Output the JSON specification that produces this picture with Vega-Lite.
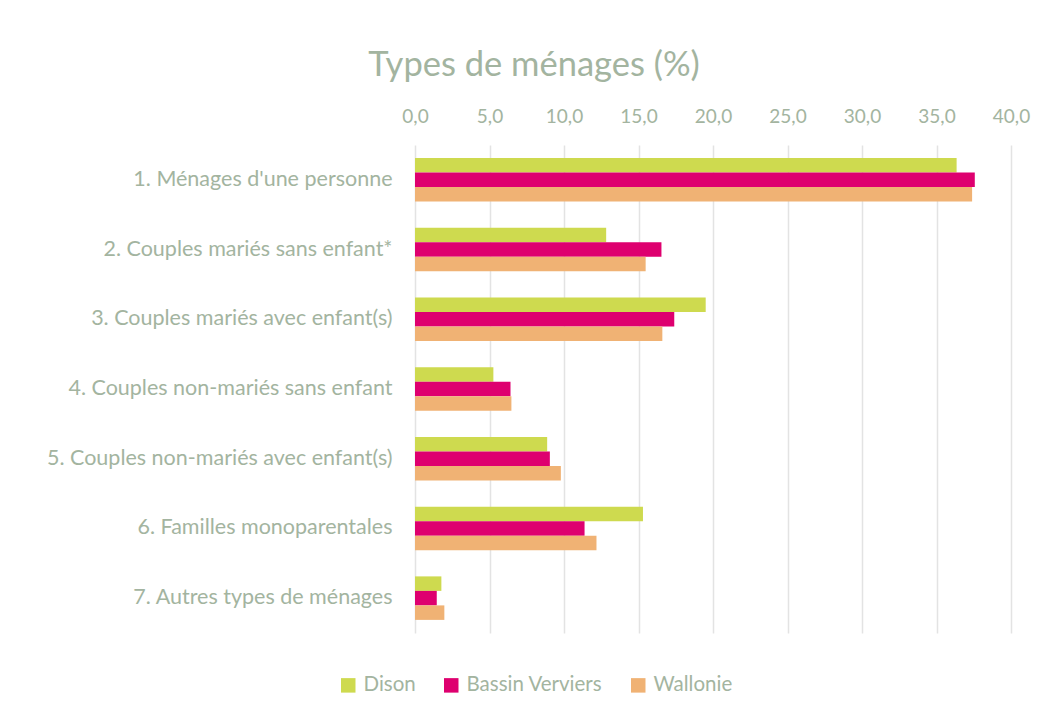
{
  "$schema": "https://vega.github.io/schema/vega-lite/v6.json",
  "width": 596,
  "height": 488,
  "autosize": {"type": "none"},
  "padding": {"left": 415, "top": 145, "right": 36, "bottom": 82},
  "background": "white",
  "title": {
    "text": "Types de ménages (%)",
    "font": "Lato",
    "fontSize": 34.5,
    "fontWeight": "normal",
    "color": "#A3B4A0",
    "anchor": "middle",
    "frame": "group",
    "dx": -179,
    "offset": 24
  },
  "data": {
    "values": [
      {"cat": "1. Ménages d'une personne", "serie": "Dison", "val": 36.35},
      {"cat": "1. Ménages d'une personne", "serie": "Bassin Verviers", "val": 37.57},
      {"cat": "1. Ménages d'une personne", "serie": "Wallonie", "val": 37.39},
      {"cat": "2. Couples mariés sans enfant*", "serie": "Dison", "val": 12.83},
      {"cat": "2. Couples mariés sans enfant*", "serie": "Bassin Verviers", "val": 16.54},
      {"cat": "2. Couples mariés sans enfant*", "serie": "Wallonie", "val": 15.48},
      {"cat": "3. Couples mariés avec enfant(s)\u00a0", "serie": "Dison", "val": 19.51},
      {"cat": "3. Couples mariés avec enfant(s)\u00a0", "serie": "Bassin Verviers", "val": 17.40},
      {"cat": "3. Couples mariés avec enfant(s)\u00a0", "serie": "Wallonie", "val": 16.60},
      {"cat": "4. Couples non-mariés sans enfant", "serie": "Dison", "val": 5.26},
      {"cat": "4. Couples non-mariés sans enfant", "serie": "Bassin Verviers", "val": 6.41},
      {"cat": "4. Couples non-mariés sans enfant", "serie": "Wallonie", "val": 6.47},
      {"cat": "5. Couples non-mariés avec enfant(s)\u00a0", "serie": "Dison", "val": 8.87},
      {"cat": "5. Couples non-mariés avec enfant(s)\u00a0", "serie": "Bassin Verviers", "val": 9.05},
      {"cat": "5. Couples non-mariés avec enfant(s)\u00a0", "serie": "Wallonie", "val": 9.79},
      {"cat": "6. Familles monoparentales", "serie": "Dison", "val": 15.30},
      {"cat": "6. Familles monoparentales", "serie": "Bassin Verviers", "val": 11.38},
      {"cat": "6. Familles monoparentales", "serie": "Wallonie", "val": 12.18},
      {"cat": "7. Autres types de ménages", "serie": "Dison", "val": 1.77},
      {"cat": "7. Autres types de ménages", "serie": "Bassin Verviers", "val": 1.46},
      {"cat": "7. Autres types de ménages", "serie": "Wallonie", "val": 1.97}
    ]
  },
  "mark": {"type": "bar"},
  "encoding": {
    "y": {
      "field": "cat",
      "type": "nominal",
      "sort": null,
      "title": null,
      "scale": {"paddingInner": 0.376, "paddingOuter": 0.188},
      "axis": {
        "domain": false,
        "ticks": false,
        "grid": false,
        "labelFont": "Lato",
        "labelFontSize": 21.5,
        "labelColor": "#A3B4A0",
        "labelPadding": 23,
        "labelLimit": 500
      }
    },
    "yOffset": {
      "field": "serie",
      "type": "nominal",
      "sort": ["Dison", "Bassin Verviers", "Wallonie"]
    },
    "x": {
      "field": "val",
      "type": "quantitative",
      "title": null,
      "scale": {"domain": [0, 40], "nice": false},
      "axis": {
        "orient": "top",
        "values": [0, 5, 10, 15, 20, 25, 30, 35, 40],
        "labelExpr": "replace(format(datum.value, '.1f'), '.', ',')",
        "domain": false,
        "ticks": false,
        "grid": true,
        "gridColor": "#E3E3E3",
        "gridWidth": 1.5,
        "labelFont": "Lato",
        "labelFontSize": 19,
        "labelColor": "#A3B4A0",
        "labelPadding": 19,
        "labelFlush": false
      }
    },
    "color": {
      "field": "serie",
      "type": "nominal",
      "sort": ["Dison", "Bassin Verviers", "Wallonie"],
      "scale": {
        "domain": ["Dison", "Bassin Verviers", "Wallonie"],
        "range": ["#CEDA4F", "#DE006F", "#F0B274"]
      },
      "legend": {
        "title": null,
        "orient": "none",
        "direction": "horizontal",
        "legendX": -77,
        "legendY": 530,
        "symbolType": "square",
        "symbolSize": 210,
        "symbolStrokeWidth": 0,
        "symbolOpacity": 1,
        "labelFont": "Lato",
        "labelFontSize": 20.5,
        "labelColor": "#A3B4A0",
        "labelOffset": 5,
        "columnPadding": 25
      }
    }
  },
  "config": {
    "view": {"stroke": null}
  }
}
